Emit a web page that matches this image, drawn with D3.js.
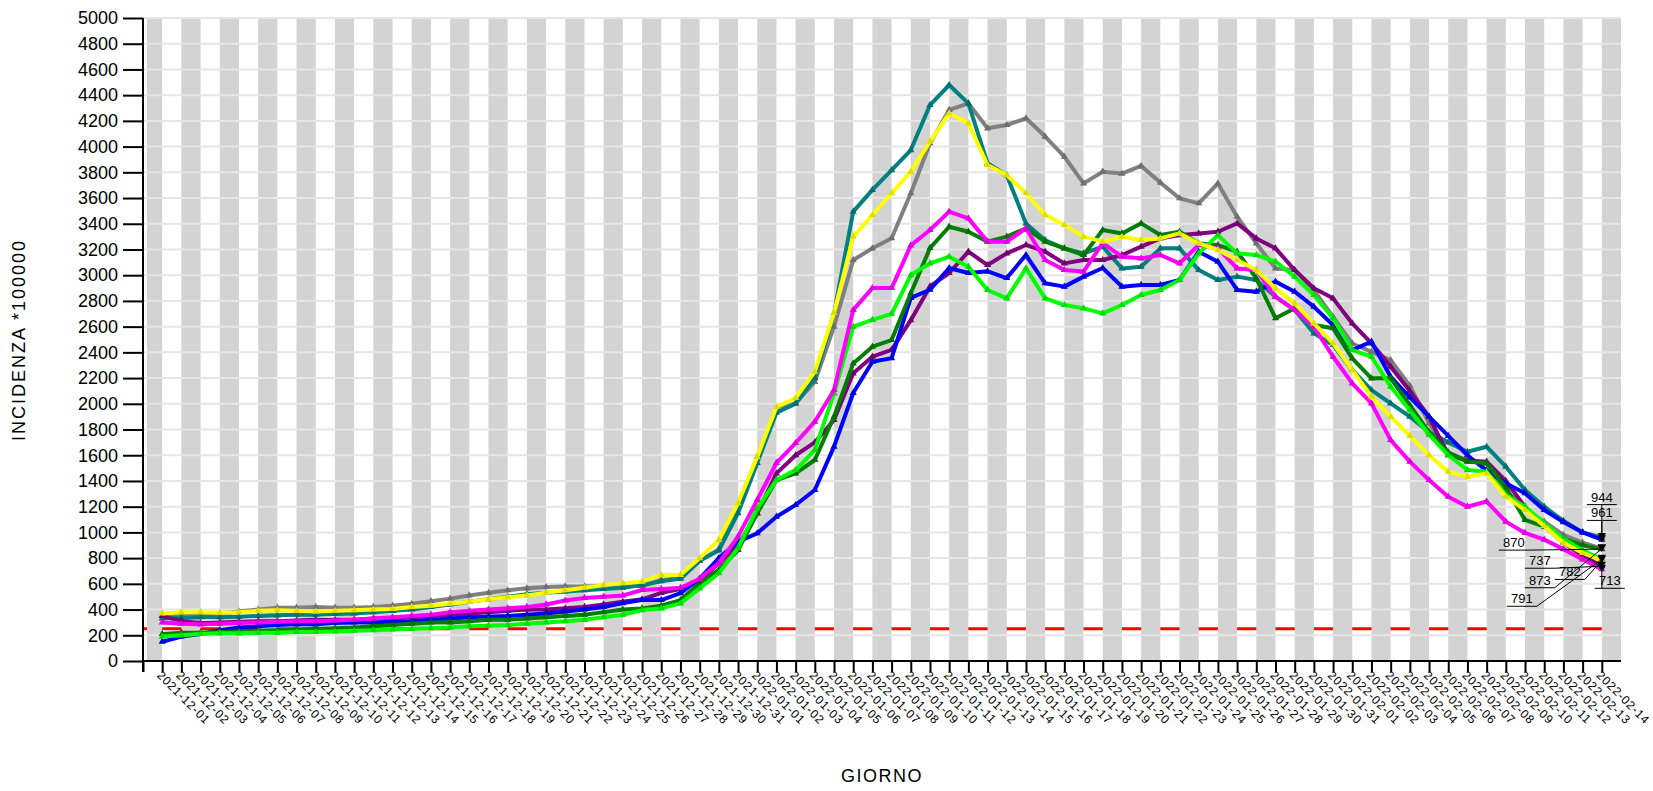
<!DOCTYPE html>
<html>
<head>
<meta charset="utf-8">
<script src="https://cdn.jsdelivr.net/npm/d3@7"></script>
<style>
  body { margin: 0; background: #fff; }
  text { font-family: "Liberation Sans", Arial, sans-serif; }
</style>
</head>
<body>
<div id="chart"></div>
<script>
// Days on the x axis (one point per day)
const firstDay = "2021-12-01";
const dayCount = 76;

const yTicks = d3.range(0, 5001, 200);
const threshold = 250;

// Series values (incidence *100000)
const teal = [330,335,340,340,345,350,355,360,360,365,370,380,390,400,420,440,460,480,500,520,530,540,550,560,570,590,620,640,
  780,860,1150,1540,1930,2000,2200,2704,
  3494,3663,3817,3973,4323,4479,4336,3870,3778,3402,3272,3208,3169,
  3222,3053,3066,3209,3209,3040,2963,2989,2963,2833,2729,2548,2457,2263,2107,2003,
  1900,1780,1700,1627,1666,1511,1330,1200,1090,1000,961];
const gray = [350,355,360,370,385,400,415,415,420,415,415,420,430,445,465,485,510,530,550,565,575,580,580,585,590,583,630,643,
  780,870,1213,1587,1950,2005,2170,2600,
  3118,3209,3287,3637,4026,4285,4336,4142,4168,4220,4078,3922,3714,
  3805,3790,3850,3720,3598,3559,3714,3455,3247,3053,3040,2884,2676,2469,2404,2339,
  2140,1850,1620,1560,1530,1330,1174,1084,980,920,873];
const purple = [350,310,295,300,305,310,310,315,320,320,320,330,330,340,350,360,370,380,390,400,400,410,420,440,460,480,530,560,
  620,760,900,1150,1459,1600,1700,1874,2237,2366,2420,2650,2913,3017,3183,3079,3170,3235,3183,3092,3118,
  3118,3157,3222,3286,3312,3325,3338,3403,3286,3209,3040,2898,2820,2625,2470,2289,
  2100,1900,1600,1560,1550,1400,1200,1050,920,820,737];
const blue = [150,190,210,240,260,270,280,285,285,295,300,300,305,310,320,330,340,345,350,360,370,385,400,420,450,474,474,528,
  640,800,928,993,1122,1213,1330,1667,2084,2327,2355,
  2823,2887,3056,3017,3030,2978,3157,2937,2911,2989,
  3056,2911,2924,2924,2963,3183,3105,2885,2872,2950,2872,2755,2612,2418,2483,2210,
  2050,1900,1750,1600,1480,1382,1304,1174,1080,1000,944];
const darkGreen = [210,220,220,225,230,235,240,245,250,255,260,270,280,290,300,300,310,320,320,330,340,350,360,380,400,
  409,430,474,604,708,863,1148,1407,1459,1563,1900,2314,2444,2496,2860,3211,3377,3338,3261,3300,3365,3261,3209,3157,
  3351,3325,3403,3312,3338,3247,3234,3183,2976,2665,2743,2612,2587,2353,2198,2198,
  1990,1780,1620,1550,1540,1350,1097,1045,950,900,870];
const lime = [190,200,210,215,215,220,220,225,225,230,235,240,245,250,255,260,270,275,280,290,300,310,320,340,360,396,409,448,
  565,682,880,1187,1407,1485,1641,2081,2600,2652,2700,3001,3092,3144,3066,2885,2820,3053,2820,2768,2742,
  2703,2768,2846,2885,2963,3170,3312,3170,3157,3105,2989,2846,2664,2418,2366,2133,
  1950,1760,1600,1485,1472,1291,1200,1071,950,860,791];
const magenta = [300,290,285,290,295,300,305,310,310,315,320,330,340,350,360,380,390,400,410,420,440,470,490,500,510,552,560,570,
  640,762,967,1252,1540,1695,1861,2107,
  2730,2900,2900,3232,3351,3494,3442,3261,3261,3365,3118,3040,3028,
  3250,3144,3131,3157,3092,3235,3209,3053,3040,2833,2729,2600,2366,2159,2003,1718,
  1550,1407,1278,1200,1240,1084,996,944,870,790,713];
const yellow = [370,380,380,375,380,390,395,390,385,390,395,400,405,420,430,445,460,480,495,510,530,550,570,590,605,617,669,669,
  800,941,1228,1587,1975,2045,2250,2706,
  3300,3468,3637,3805,4039,4259,4181,3857,3779,3637,3468,3390,3300,
  3261,3299,3274,3286,3325,3247,3196,3118,3040,2898,2781,2625,2470,2263,2055,1900,
  1750,1600,1472,1433,1459,1278,1174,1050,920,840,782];

// drawing order, back to front
const seriesList = [
  { values: gray, color: "#808080" },
  { values: teal, color: "#008080" },
  { values: purple, color: "#800080" },
  { values: blue, color: "#0000ff" },
  { values: darkGreen, color: "#008000" },
  { values: lime, color: "#00ff00" },
  { values: magenta, color: "#ff00ff" },
  { values: yellow, color: "#ffff00" },
];

// where the last-value marks sit, relative to the last point (same order as seriesList)
const labelOffsets = [[-62, 36], [0, -20], [-62, -1], [0, -38], [-88, -2], [-80, 44], [8, 16], [-32, 16]];

const margin = { top: 18, left: 143, right: 32, bottom: 130 };
const totalWidth = 1653, totalHeight = 791;
const wSvg = totalWidth - margin.left - margin.right;
const hSvg = totalHeight - margin.top - margin.bottom;

const parseDay = d3.timeParse("%Y-%m-%d");
const fmtDay = d3.timeFormat("%Y-%m-%d");
const days = d3.timeDay.range(parseDay(firstDay), d3.timeDay.offset(parseDay(firstDay), dayCount)).map(fmtDay);

const root = d3.select("#chart").append("svg")
  .attr("width", totalWidth)
  .attr("height", totalHeight);

const svg = root.append("g")
  .attr("transform", `translate(${margin.left},${margin.top})`);

const xScale = d3.scaleLinear().domain([-1, dayCount]).range([0, wSvg]);
const yScale = d3.scaleLinear().domain([0, 5000]).range([hSvg, 0]);

// threshold line sits under the bands, so it only shows in the white stripes
svg.append("line")
  .attr("x1", 0).attr("x2", wSvg)
  .attr("y1", yScale(threshold)).attr("y2", yScale(threshold))
  .attr("stroke", "#ff0000")
  .attr("stroke-width", 3);

// alternating grey stripes between day ticks
const bands = d3.range(0, Math.ceil(dayCount / 2) + 1)
  .map(k => [Math.max(2 * k - 1, -1), Math.min(2 * k, dayCount)])
  .filter(b => b[1] > b[0]);

svg.append("g").selectAll("rect")
  .data(bands)
  .enter()
  .append("rect")
  .attr("x", d => xScale(d[0]) + (d[0] === -1 ? 4 : 0))
  .attr("width", d => xScale(d[1]) - xScale(d[0]) - (d[0] === -1 ? 4 : 0))
  .attr("y", 0)
  .attr("height", hSvg)
  .attr("fill", "#d3d3d3");

// horizontal grid
svg.append("g").selectAll("line")
  .data(yTicks.filter(t => t > 0))
  .enter()
  .append("line")
  .attr("x1", 0).attr("x2", wSvg)
  .attr("y1", d => yScale(d)).attr("y2", d => yScale(d))
  .attr("stroke", "#e6e6e6")
  .attr("stroke-width", 2);

// Y axis
const yAxis = d3.axisLeft(yScale).tickValues(yTicks).tickSize(20).tickPadding(5).tickFormat(d3.format("d"));
const gy = svg.append("g").call(yAxis);
gy.select(".domain").remove();
gy.selectAll(".tick line").attr("stroke", "#000").attr("stroke-width", 2);
gy.selectAll(".tick text").attr("font-size", 18).attr("fill", "#000");

// X axis
const xAxis = d3.axisBottom(xScale).tickValues(d3.range(-1, dayCount)).tickSize(11).tickFormat("");
const gx = svg.append("g").attr("transform", `translate(0,${hSvg})`).call(xAxis);
gx.select(".domain").remove();
gx.selectAll(".tick line").attr("stroke", "#000").attr("stroke-width", 2);

svg.append("line")
  .attr("x1", 0).attr("x2", wSvg)
  .attr("y1", hSvg).attr("y2", hSvg)
  .attr("stroke", "#000").attr("stroke-width", 2);
svg.append("line")
  .attr("x1", 0).attr("x2", 0)
  .attr("y1", 0).attr("y2", hSvg + 11)
  .attr("stroke", "#000").attr("stroke-width", 2);

// rotated day labels
svg.append("g").selectAll("text")
  .data(days)
  .enter()
  .append("text")
  .attr("transform", (d, i) => `translate(${xScale(i) - 6},${hSvg + 15}) rotate(45)`)
  .attr("font-size", 12)
  .attr("letter-spacing", 0.8)
  .attr("fill", "#000")
  .text(d => d);

// Lines + markers
const line = d3.line()
  .x((d, i) => xScale(i))
  .y(d => yScale(d));

seriesList.forEach(s => {
  svg.append("path")
    .attr("fill", "none")
    .attr("stroke", s.color)
    .attr("stroke-width", 4)
    .attr("stroke-linejoin", "round")
    .attr("d", line(s.values));

  svg.append("g").selectAll("path")
    .data(s.values)
    .enter()
    .append("path")
    .attr("transform", (d, i) => `translate(${xScale(i)},${yScale(d)})`)
    .attr("d", d3.symbol().type(d3.symbolTriangle).size(22))
    .attr("fill", d3.color(s.color).darker(0.4));
});

// last value marks with leader lines
const last = dayCount - 1;
seriesList.forEach((s, k) => {
  const v = s.values[last];
  const px = xScale(last), py = yScale(v);
  const lx = px + labelOffsets[k][0], ly = py + labelOffsets[k][1];
  const ax = Math.max(lx - 15, Math.min(lx + 15, px));

  svg.append("line")
    .attr("x1", lx - 15).attr("x2", lx + 15)
    .attr("y1", ly + 3).attr("y2", ly + 3)
    .attr("stroke", "#000").attr("stroke-width", 1);
  svg.append("line")
    .attr("x1", px).attr("y1", py)
    .attr("x2", ax).attr("y2", ly + 3)
    .attr("stroke", "#000").attr("stroke-width", 1);
  svg.append("path")
    .attr("transform", `translate(${px},${py - 2}) rotate(180)`)
    .attr("d", d3.symbol().type(d3.symbolTriangle).size(30))
    .attr("fill", "#000");
  svg.append("text")
    .attr("x", lx).attr("y", ly)
    .attr("text-anchor", "middle")
    .attr("font-size", 13)
    .attr("fill", "#000")
    .text(v);
});

// Axis titles
root.append("text")
  .attr("transform", `translate(25,340) rotate(-90)`)
  .attr("text-anchor", "middle")
  .attr("font-size", 18)
  .attr("letter-spacing", 2)
  .attr("fill", "#000")
  .text("INCIDENZA *100000");

root.append("text")
  .attr("x", margin.left + wSvg / 2)
  .attr("y", 782)
  .attr("text-anchor", "middle")
  .attr("font-size", 18)
  .attr("letter-spacing", 1.5)
  .attr("fill", "#000")
  .text("GIORNO");
</script>
</body>
</html>
